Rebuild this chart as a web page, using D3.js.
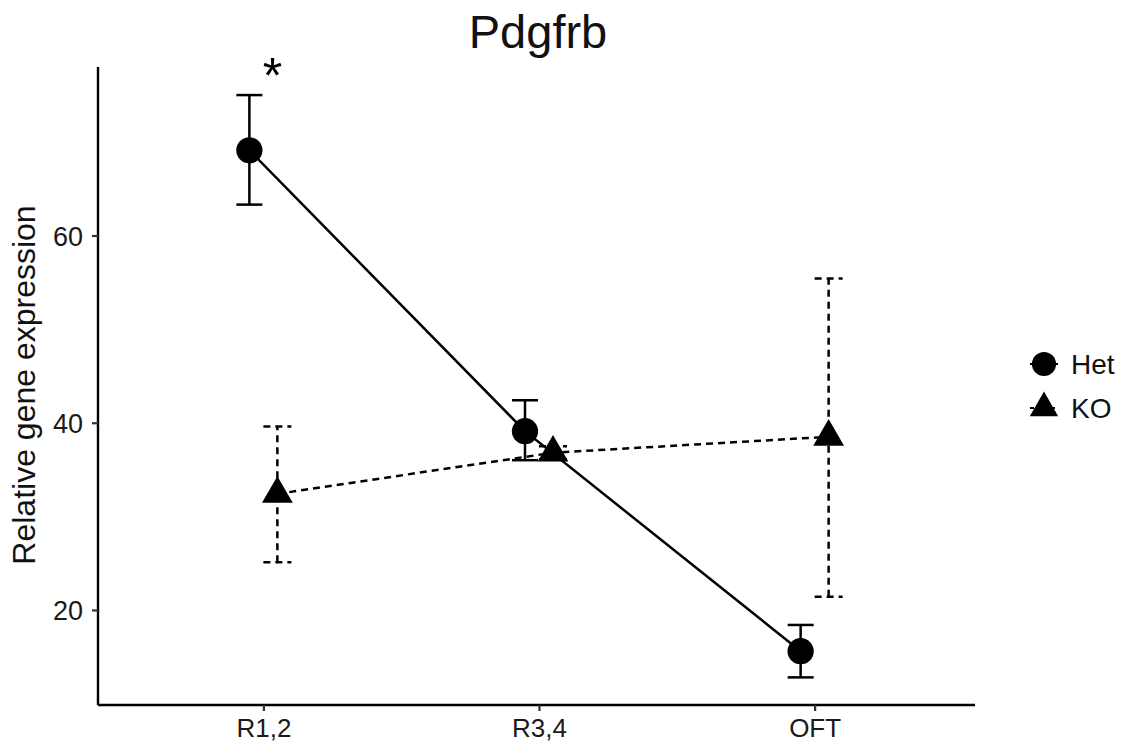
<!DOCTYPE html>
<html>
<head>
<meta charset="utf-8">
<script src="https://cdn.jsdelivr.net/npm/d3@7"></script>
<style>
  html, body { margin: 0; padding: 0; background: #fff; }
  svg { display: block; font-family: "Liberation Sans", Arial, Helvetica, sans-serif; }
</style>
</head>
<body>
<svg id="chart" width="1131" height="752"></svg>
<script>
// Regions along the x axis
const categories = ["R1,2", "R3,4", "OFT"];
const groups = ["Het", "KO"];

// Het: mean with lower / upper error bounds
const hetMean = [69.1, 39.1, 15.6];
const hetLow  = [63.3, 36.0, 12.8];
const hetHigh = [75.0, 42.4, 18.4];

// KO: mean with lower / upper error bounds
const koMean = [32.4, 36.8, 38.5];
const koLow  = [25.1, 36.1, 21.4];
const koHigh = [39.6, 37.5, 55.4];

const yTicks = [20, 40, 60];
const chartTitle = "Pdgfrb";
const yTitle = "Relative gene expression";
const significance = ["*", "", ""];

const svg = d3.select("#chart");
const plot = { left: 98, right: 980, top: 67, bottom: 705 };

const x = d3.scalePoint().domain(categories).range([plot.left, plot.right]).padding(0.6);
const dodge = d3.scalePoint().domain(groups).range([-14, 14]);
const y = d3.scaleLinear().domain([9.85, 78]).range([plot.bottom, plot.top]);

const series = [
  { key: "Het", mean: hetMean, low: hetLow, high: hetHigh, dash: null, shape: d3.symbolCircle, size: 540, cap: 13 },
  { key: "KO",  mean: koMean,  low: koLow,  high: koHigh,  dash: "7,5", shape: d3.symbolTriangle, size: 410, cap: 14 }
];

// Axes
const yAxis = svg.append("g")
  .attr("transform", `translate(${plot.left},0)`)
  .call(d3.axisLeft(y).tickValues(yTicks).tickSize(6).tickPadding(9));
yAxis.select(".domain").attr("d", `M0,${plot.top}V${plot.bottom}`);

const xAxis = svg.append("g")
  .attr("transform", `translate(0,${plot.bottom})`)
  .call(d3.axisBottom(x).tickSize(6).tickPadding(7));
xAxis.select(".domain").attr("d", `M${plot.left},0H${plot.right - 5}`);

svg.selectAll(".domain").attr("stroke", "#000").attr("stroke-width", 2.4);
svg.selectAll(".tick line").attr("stroke", "#333").attr("stroke-width", 2.2);
svg.selectAll(".tick text").attr("fill", "#1a1a1a").style("font-size", "27px")
  .style("font-family", '"Liberation Sans", Arial, sans-serif');
xAxis.selectAll(".tick text").style("font-size", "26px").attr("dy", "0.72em");
yAxis.selectAll(".tick text").attr("dy", "0.36em");

// Series: connecting line, error bars, markers
series.forEach(s => {
  const pts = categories.map((c, i) => ({
    cx: x(c) + dodge(s.key), m: s.mean[i], lo: s.low[i], hi: s.high[i]
  }));
  const g = svg.append("g");

  g.append("path")
    .datum(pts)
    .attr("d", d3.line().x(d => d.cx).y(d => y(d.m)))
    .attr("fill", "none").attr("stroke", "#000").attr("stroke-width", 2.5)
    .attr("stroke-dasharray", s.dash);

  const eb = g.selectAll(".eb").data(pts).join("g");
  eb.append("line")
    .attr("x1", d => d.cx).attr("x2", d => d.cx)
    .attr("y1", d => y(d.lo)).attr("y2", d => y(d.hi));
  eb.append("line")
    .attr("x1", d => d.cx - s.cap).attr("x2", d => d.cx + s.cap)
    .attr("y1", d => y(d.hi)).attr("y2", d => y(d.hi));
  eb.append("line")
    .attr("x1", d => d.cx - s.cap).attr("x2", d => d.cx + s.cap)
    .attr("y1", d => y(d.lo)).attr("y2", d => y(d.lo));
  eb.selectAll("line").attr("stroke", "#000").attr("stroke-width", 2.5)
    .attr("stroke-dasharray", s.dash);

  g.selectAll(".pt").data(pts).join("path")
    .attr("transform", d => `translate(${d.cx},${y(d.m)})`)
    .attr("d", d3.symbol().type(s.shape).size(s.size))
    .attr("fill", "#000");
});

// Significance markers above the upper error bar of Het
svg.selectAll(".sig").data(categories).join("text")
  .attr("x", (c) => x(c) + 9)
  .attr("y", (c, i) => y(hetHigh[i]) - 2)
  .attr("text-anchor", "middle")
  .style("font-size", "50px")
  .text((c, i) => significance[i]);

// Title
svg.append("text")
  .attr("x", 538).attr("y", 48)
  .attr("text-anchor", "middle")
  .style("font-size", "47px").attr("fill", "#111")
  .text(chartTitle);

// Y axis title
svg.append("text")
  .attr("transform", `translate(35,${(plot.top + plot.bottom) / 2 - 1}) rotate(-90)`)
  .attr("text-anchor", "middle")
  .style("font-size", "32px").attr("fill", "#111")
  .text(yTitle);

// Legend
const legend = svg.append("g").attr("transform", "translate(1030,364)");
series.forEach((s, i) => {
  const row = legend.append("g").attr("transform", `translate(0,${i * 44})`);
  row.append("line").attr("x1", 0).attr("x2", 28).attr("y1", 0).attr("y2", 0)
    .attr("stroke", "#000").attr("stroke-width", 2).attr("stroke-dasharray", s.dash ? "4,3" : null);
  row.append("path").attr("transform", "translate(14,0)")
    .attr("d", d3.symbol().type(s.shape).size(s.size * 0.85)).attr("fill", "#000");
  row.append("text").attr("x", 41).attr("y", 0).attr("dy", "0.36em")
    .style("font-size", "28px").attr("fill", "#111")
    .text(s.key);
});
</script>
</body>
</html>
